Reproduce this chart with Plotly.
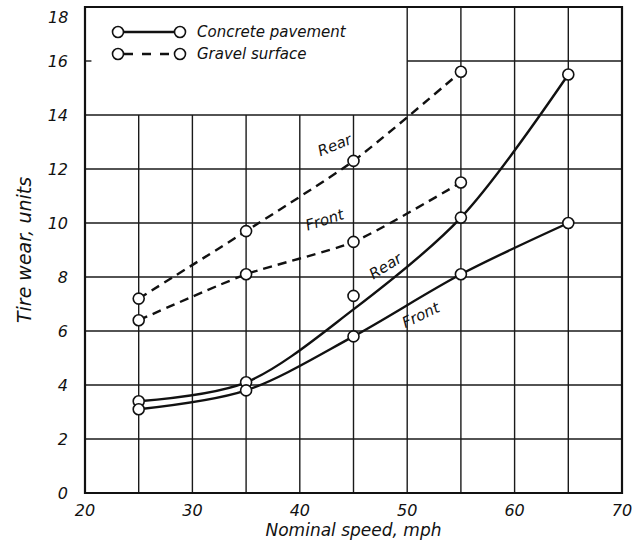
import plotly.graph_objects as go

speeds = [25, 35, 45, 55, 65]
concrete_front = [3.1, 3.8, 5.8, 8.1, 10.0]
concrete_rear_curve = [3.4, 4.1, 6.8, 10.2, 15.5]
concrete_rear_points = [3.4, 4.1, 7.3, 10.2, 15.5]
gravel_speeds = [25, 35, 45, 55]
gravel_front = [6.4, 8.1, 9.3, 11.5]
gravel_rear = [7.2, 9.7, 12.3, 15.6]

x_ticks = [20, 30, 40, 50, 60, 70]
y_ticks = [0, 2, 4, 6, 8, 10, 12, 14, 16]
y_top_label = 18

FONT = "DejaVu Sans"
INK = "#111111"

fig = go.Figure()

line_w = 2.4
mk = dict(symbol="circle", size=11, color="white", line=dict(color=INK, width=1.6))

fig.add_trace(go.Scatter(x=gravel_speeds, y=gravel_rear, mode="lines",
                         line=dict(color=INK, width=line_w, dash="9px,6px", shape="spline", smoothing=0.6)))
fig.add_trace(go.Scatter(x=gravel_speeds, y=gravel_front, mode="lines",
                         line=dict(color=INK, width=line_w, dash="9px,6px", shape="spline", smoothing=0.6)))
fig.add_trace(go.Scatter(x=speeds, y=concrete_rear_curve, mode="lines",
                         line=dict(color=INK, width=line_w, shape="spline", smoothing=0.9)))
fig.add_trace(go.Scatter(x=speeds, y=concrete_front, mode="lines",
                         line=dict(color=INK, width=line_w, shape="spline", smoothing=0.9)))
for xs, ys in [(gravel_speeds, gravel_rear), (gravel_speeds, gravel_front),
               (speeds, concrete_rear_points), (speeds, concrete_front)]:
    fig.add_trace(go.Scatter(x=xs, y=ys, mode="markers", marker=mk))

# grid lines drawn as shapes (legend area left blank, as in the original)
shapes = []
grid_col = "#1a1a1a"
for xv in range(25, 70, 5):
    top = 18 if xv >= 50 else 14
    shapes.append(dict(type="line", xref="x", yref="y", x0=xv, x1=xv, y0=0, y1=top,
                       line=dict(color=grid_col, width=1.4), layer="below"))
for yv in range(2, 18, 2):
    x0 = 50 if yv == 16 else 20
    shapes.append(dict(type="line", xref="x", yref="y", x0=x0, x1=70, y0=yv, y1=yv,
                       line=dict(color=grid_col, width=1.4), layer="below"))
shapes.append(dict(type="line", xref="x", yref="y", x0=20, x1=20.6, y0=16, y1=16,
                   line=dict(color=grid_col, width=1.4)))
shapes.append(dict(type="rect", xref="paper", yref="paper", x0=0, x1=1, y0=0, y1=1,
                   line=dict(color=INK, width=2.2)))

# legend drawn by hand
def px2paper(px, py):
    return (px - 85) / 537.0, (493 - py) / 486.0

leg = [("Concrete pavement", 32, "solid"), ("Gravel surface", 54, "dash")]
for label, py, dash in leg:
    xa, ya = px2paper(124, py)
    xb, yb = px2paper(174, py)
    shapes.append(dict(type="line", xref="paper", yref="paper", x0=xa, x1=xb, y0=ya, y1=yb,
                       line=dict(color=INK, width=line_w, dash="dash" if dash == "dash" else "solid")))
    for cx in (118, 180):
        c0 = px2paper(cx - 5.5, py - 5.5)
        c1 = px2paper(cx + 5.5, py + 5.5)
        shapes.append(dict(type="circle", xref="paper", yref="paper",
                           x0=c0[0], x1=c1[0], y0=c1[1], y1=c0[1],
                           fillcolor="white", line=dict(color=INK, width=1.6)))

annotations = []
for label, py, dash in leg:
    tx, ty = px2paper(195, py)
    annotations.append(dict(x=tx, y=ty, xref="paper", yref="paper", text=f"<i>{label}</i>",
                            showarrow=False, xanchor="left", yanchor="middle",
                            font=dict(family=FONT, size=15, color=INK)))

# top tick label placed by hand (sits just under the frame in the original)
lx, ly = px2paper(70, 17)
annotations.append(dict(x=lx, y=ly, xref="paper", yref="paper", text=f"<i>{y_top_label}</i>",
                        showarrow=False, xanchor="right", yanchor="middle",
                        font=dict(family=FONT, size=16, color=INK)))

curve_labels = [
    ("Rear", 43.3, 12.9, -22),
    ("Front", 42.3, 10.1, -18),
    ("Rear", 48.0, 8.4, -32),
    ("Front", 51.3, 6.6, -26),
]
for txt, x, y, ang in curve_labels:
    annotations.append(dict(x=x, y=y, xref="x", yref="y", text=f"<i>{txt}</i>", showarrow=False,
                            textangle=ang, font=dict(family=FONT, size=15, color=INK)))

fig.update_layout(
    width=643, height=547,
    margin=dict(l=85, r=21, t=7, b=54),
    paper_bgcolor="white", plot_bgcolor="white",
    showlegend=False,
    shapes=shapes,
    annotations=annotations,
    font=dict(family=FONT, color=INK),
    xaxis=dict(range=[20, 70], tickvals=x_ticks, ticktext=[f"<i>{v}</i>" for v in x_ticks],
               showgrid=False, zeroline=False, showline=False, ticks="",
               tickfont=dict(size=16, family=FONT, color=INK), ticklabelstandoff=6,
               title=dict(text="<i>Nominal speed, mph</i>", font=dict(size=17, family=FONT, color=INK),
                          standoff=4)),
    yaxis=dict(range=[0, 18], tickvals=y_ticks, ticktext=[f"<i>{v}</i>" for v in y_ticks],
               showgrid=False, zeroline=False, showline=False, ticks="",
               tickfont=dict(size=16, family=FONT, color=INK), ticklabelstandoff=16,
               title=dict(text="<i>Tire wear, units</i>", font=dict(size=19, family=FONT, color=INK),
                          standoff=10)),
)

fig.write_html("out.html")
